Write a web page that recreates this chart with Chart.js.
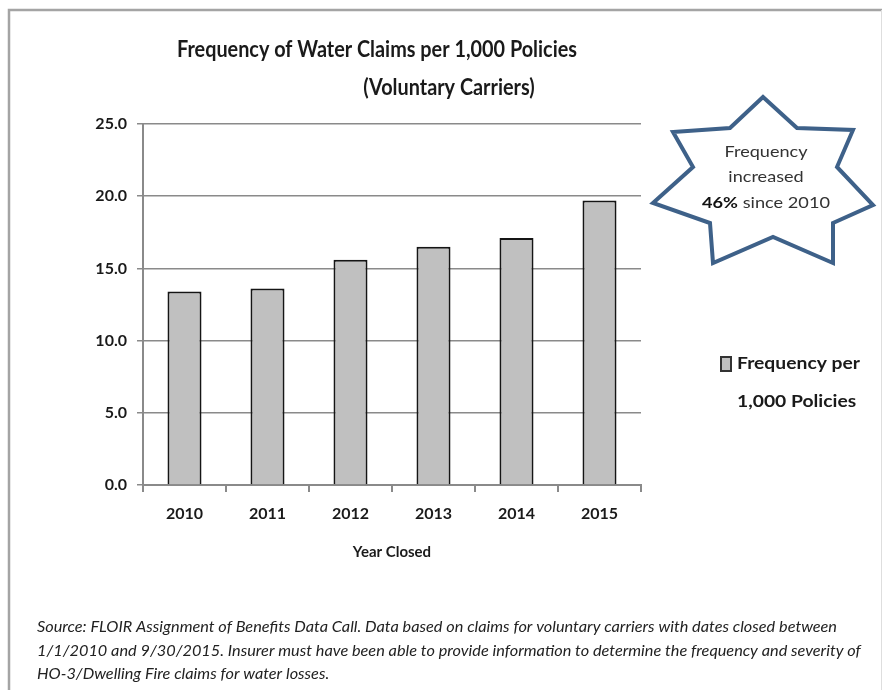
<!DOCTYPE html>
<html>
<head>
<meta charset="utf-8">
<title>Frequency of Water Claims per 1,000 Policies</title>
<script src="https://cdn.jsdelivr.net/npm/chart.js@4.4.1/dist/chart.umd.min.js"></script>
<style>
  html, body { margin: 0; padding: 0; background: #fff; }
  canvas { display: block; }
</style>
</head>
<body>
<canvas id="chart" width="883" height="690"></canvas>
<script>
// claims frequency per 1,000 policies, by year closed
const years = ['2010', '2011', '2012', '2013', '2014', '2015'];
const frequency = [13.4, 13.6, 15.6, 16.5, 17.1, 19.7];
const yTicks = [0, 5, 10, 15, 20, 25];

const seriesLabel = ['Frequency per', '1,000 Policies'];
const titleLines = ['Frequency of Water Claims per 1,000 Policies', '(Voluntary Carriers)'];
const calloutLines = ['Frequency', 'increased'];
const calloutStat = ['46%', ' since 2010'];
const sourceLines = [
  'Source: FLOIR Assignment of Benefits Data Call. Data based on claims for voluntary carriers with dates closed between',
  '1/1/2010 and 9/30/2015. Insurer must have been able to provide information to determine the frequency and severity of',
  'HO-3/Dwelling Fire claims for water losses.'
];

const FONT = 'Lato, "Open Sans", sans-serif';
const INK = '#1a1a1a';
const GRID = '#8a8a8a';

// draw text squeezed or stretched sideways by factor k
function fillScaled(ctx, text, x, y, k) {
  ctx.save();
  ctx.translate(x, y);
  ctx.scale(k, 1);
  ctx.fillText(text, 0, 0);
  ctx.restore();
}

function widthFactor(ctx, text, width) {
  return width / ctx.measureText(text).width;
}

// white page with the grey frame round it
const pageFrame = {
  id: 'pageFrame',
  beforeDraw(chart) {
    const ctx = chart.ctx;
    ctx.save();
    ctx.fillStyle = '#fff';
    ctx.fillRect(0, 0, chart.width, chart.height);
    ctx.strokeStyle = '#a4a4a4';
    ctx.lineWidth = 2.5;
    ctx.beginPath();
    ctx.moveTo(9, chart.height + 2);
    ctx.lineTo(9, 10);
    ctx.lineTo(882, 10);
    ctx.stroke();
    ctx.strokeStyle = '#dedede';
    ctx.lineWidth = 1;
    ctx.beginPath();
    ctx.moveTo(881.5, 10);
    ctx.lineTo(881.5, chart.height);
    ctx.stroke();
    ctx.restore();
  }
};

// seven-point star callout in the top right corner
const callout = {
  id: 'callout',
  afterDraw(chart) {
    const ctx = chart.ctx;
    const star = [
      [763, 97], [797, 128], [853, 130], [837, 167], [873, 205], [833, 223],
      [833, 263], [773, 237], [713, 263], [710, 223], [653, 203], [693, 167],
      [673, 132], [730, 128]
    ];
    ctx.save();
    ctx.beginPath();
    star.forEach(([x, y], i) => (i ? ctx.lineTo(x, y) : ctx.moveTo(x, y)));
    ctx.closePath();
    ctx.fillStyle = '#fff';
    ctx.fill();
    ctx.lineWidth = 4;
    ctx.lineJoin = 'miter';
    ctx.strokeStyle = '#3e6189';
    ctx.stroke();

    ctx.fillStyle = '#333';
    ctx.textBaseline = 'middle';
    ctx.font = `16px ${FONT}`;
    let k = widthFactor(ctx, calloutLines[0], 83);
    ctx.textAlign = 'center';
    fillScaled(ctx, calloutLines[0], 766, 152, k);
    fillScaled(ctx, calloutLines[1], 766, 177, k);

    ctx.textAlign = 'left';
    ctx.font = `bold 16px ${FONT}`;
    const w1 = ctx.measureText(calloutStat[0]).width;
    ctx.font = `16px ${FONT}`;
    const w2 = ctx.measureText(calloutStat[1]).width;
    k = 128 / (w1 + w2);
    ctx.font = `bold 16px ${FONT}`;
    ctx.fillStyle = '#111';
    fillScaled(ctx, calloutStat[0], 702, 203, k);
    ctx.font = `16px ${FONT}`;
    ctx.fillStyle = '#333';
    fillScaled(ctx, calloutStat[1], 702 + w1 * k, 203, k);
    ctx.restore();
  }
};

// legend to the right of the plot, label split over two lines
const sideLegend = {
  id: 'sideLegend',
  afterDraw(chart) {
    const ctx = chart.ctx;
    const ds = chart.data.datasets[0];
    ctx.save();
    ctx.fillStyle = ds.backgroundColor;
    ctx.fillRect(721, 357, 10, 14);
    ctx.strokeStyle = '#333';
    ctx.lineWidth = 2;
    ctx.strokeRect(721, 357, 10, 14);
    ctx.fillStyle = INK;
    ctx.font = `bold 17px ${FONT}`;
    ctx.textBaseline = 'middle';
    const k = widthFactor(ctx, seriesLabel[0], 123);
    fillScaled(ctx, seriesLabel[0], 737, 364, k);
    fillScaled(ctx, seriesLabel[1], 737, 402, k);
    ctx.restore();
  }
};

// title at the top and the source note underneath
const headings = {
  id: 'headings',
  afterDraw(chart) {
    const ctx = chart.ctx;
    ctx.save();
    ctx.fillStyle = INK;
    ctx.textAlign = 'center';
    ctx.textBaseline = 'alphabetic';
    ctx.font = `bold 22.5px ${FONT}`;
    const k = widthFactor(ctx, titleLines[0], 400);
    fillScaled(ctx, titleLines[0], 377, 57, k);
    fillScaled(ctx, titleLines[1], 449, 95, k);

    ctx.font = `italic 15.5px ${FONT}`;
    ctx.fillStyle = '#222';
    ctx.textAlign = 'left';
    const ks = widthFactor(ctx, sourceLines[0], 800);
    sourceLines.forEach((line, i) => fillScaled(ctx, line, 37, 632 + i * 23.5, ks));
    ctx.restore();
  }
};

const tickFont = { family: FONT, size: 16, weight: 'bold' };

new Chart(document.getElementById('chart'), {
  type: 'bar',
  data: {
    labels: years,
    datasets: [{
      label: seriesLabel.join(' '),
      data: frequency,
      backgroundColor: '#c0c0c0',
      borderColor: '#151515',
      borderWidth: 2,
      barPercentage: 0.41,
      categoryPercentage: 1
    }]
  },
  options: {
    responsive: false,
    animation: false,
    devicePixelRatio: 1,
    layout: { padding: { left: 0, top: 124, right: 242, bottom: 125 } },
    plugins: {
      legend: { display: false },
      tooltip: { enabled: false }
    },
    scales: {
      x: {
        grid: { display: true, drawOnChartArea: false, drawTicks: true, tickLength: 7, color: GRID, lineWidth: 2 },
        border: { color: GRID, width: 2 },
        ticks: { color: INK, font: tickFont, padding: 12, maxRotation: 0 },
        title: {
          display: true,
          text: 'Year Closed',
          color: INK,
          font: { family: FONT, size: 15, weight: 'bold' },
          padding: { top: 0, bottom: 4 }
        },
        afterFit(scale) { scale.height = 80; }
      },
      y: {
        min: yTicks[0],
        max: yTicks[yTicks.length - 1],
        afterBuildTicks(scale) { scale.ticks = yTicks.map(v => ({ value: v })); },
        grid: { color: GRID, lineWidth: 1.5, tickLength: 6, drawTicks: true },
        border: { color: GRID, width: 2 },
        ticks: { color: INK, font: tickFont, padding: 10, callback: v => v.toFixed(1) },
        afterFit(scale) { scale.width = 143; }
      }
    }
  },
  plugins: [pageFrame, callout, sideLegend, headings]
});
</script>
</body>
</html>
